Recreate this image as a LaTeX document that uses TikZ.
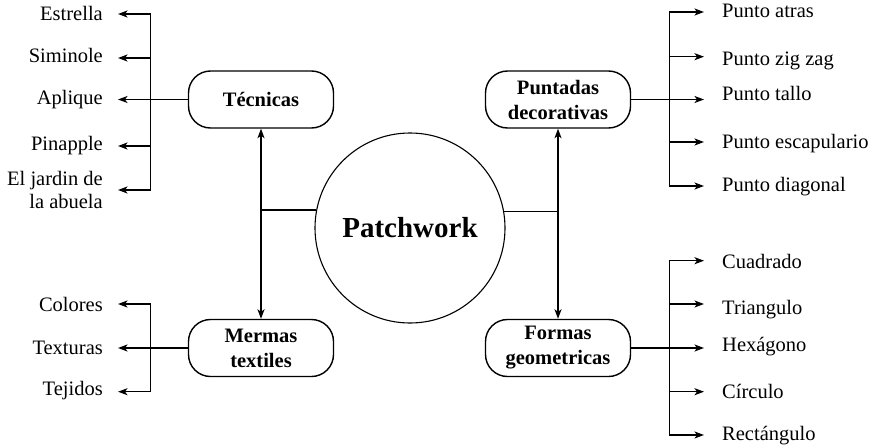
\documentclass[tikz,border=0pt]{standalone}
\usepackage{fontspec}
\setmainfont{Liberation Serif}
\usetikzlibrary{arrows.meta}
\begin{document}
\begin{tikzpicture}[x=1pt,y=-1pt,
  lbl/.style={font=\fontsize{20.5}{23.5}\selectfont, inner ysep=0pt},
  lleaf/.style={lbl, inner xsep=15pt, align=right},
  rleaf/.style={lbl, inner xsep=18pt, align=left},
  box/.style={draw, line width=1.4pt, rounded corners=22pt, minimum width=145pt, minimum height=57pt, inner sep=0pt, align=center, font=\bfseries\fontsize{20.5}{25}\selectfont},
  arr/.style={line width=1.5pt, -{Stealth[length=9.5pt,width=7pt,inset=2.5pt]}},
  ln/.style={line width=1.5pt}]
\useasboundingbox (0,0) rectangle (872,447);

% centre
\node[draw, circle, line width=1.1pt, minimum size=190pt, inner sep=0pt, font=\bfseries\fontsize{29}{30}\selectfont] (c) at (410,228) {Patchwork};

% boxes
\node[box] (tec) at (261,99.5) {Técnicas};
\node[box] (mer) at (261,348) {Mermas\\textiles};
\node[box] (pun) at (558,99.5) {Puntadas\\decorativas};
\node[box] (for) at (558,348) {Formas\\geometricas};

\draw[arr] (c.169.7) -| (tec.south);
\draw[arr] (c.169.7) -| (mer.north);
\draw[arr] (c.10.3) -| (pun.south);
\draw[arr] (c.10.3) -| (for.north);

% left top leaves
\node[lleaf, anchor=base east] (estrella) at (118,20) {Estrella};
\node[lleaf, anchor=base east] (siminole) at (118,62.7) {Siminole};
\node[lleaf, anchor=base east] (aplique) at (118,104) {Aplique};
\node[lleaf, anchor=base east] (pinapple) at (118,150.7) {Pinapple};
\node[lleaf, anchor=east] (jardin) at (118,190) {El jardin de\\la abuela};
\coordinate (lt1) at (150.7,14);
\coordinate (lt2) at (150.7,58);
\coordinate (lt4) at (150.7,146);
\coordinate (lt5) at (150.7,190);
\draw[ln] (lt1) -- (lt5);
\draw[arr] (lt1) -- (lt1 -| estrella.east);
\draw[arr] (lt2) -- (lt2 -| siminole.east);
\draw[arr] (tec.west) -- (tec.west -| aplique.east);
\draw[arr] (lt4) -- (lt4 -| pinapple.east);
\draw[arr] (lt5) -- (lt5 -| jardin.east);

% left bottom leaves
\node[lleaf, anchor=base east] (colores) at (118,311.7) {Colores};
\node[lleaf, anchor=base east] (texturas) at (118,354) {Texturas};
\node[lleaf, anchor=base east] (tejidos) at (118,395) {Tejidos};
\coordinate (lb1) at (150.7,304);
\coordinate (lb3) at (150.7,391.7);
\draw[ln] (lb1) -- (lb3);
\draw[arr] (lb1) -- (lb1 -| colores.east);
\draw[arr] (mer.west) -- (mer.west -| texturas.east);
\draw[arr] (lb3) -- (lb3 -| tejidos.east);

% right top leaves
\node[rleaf, anchor=base west] (atras) at (704,17.3) {Punto atras};
\node[rleaf, anchor=base west] (zigzag) at (704,65) {Punto zig zag};
\node[rleaf, anchor=base west] (tallo) at (704,100) {Punto tallo};
\node[rleaf, anchor=base west] (escap) at (704,148.3) {Punto escapulario};
\node[rleaf, anchor=base west] (diag) at (704,191.7) {Punto diagonal};
\coordinate (rt1) at (669.3,12);
\coordinate (rt2) at (669.3,56.7);
\coordinate (rt4) at (669.3,142);
\coordinate (rt5) at (669.3,186);
\draw[ln] (rt1) -- (rt5);
\draw[arr] (rt1) -- (rt1 -| atras.west);
\draw[arr] (rt2) -- (rt2 -| zigzag.west);
\draw[arr] (pun.east) -- (pun.east -| tallo.west);
\draw[arr] (rt4) -- (rt4 -| escap.west);
\draw[arr] (rt5) -- (rt5 -| diag.west);

% right bottom leaves
\node[rleaf, anchor=base west] (cuad) at (704,268.3) {Cuadrado};
\node[rleaf, anchor=base west] (tri) at (704,314) {Triangulo};
\node[rleaf, anchor=base west] (hex) at (704,351.7) {Hexágono};
\node[rleaf, anchor=base west] (circ) at (704,398.3) {Círculo};
\node[rleaf, anchor=base west] (rect) at (704,440) {Rectángulo};
\coordinate (rb1) at (669.3,260.7);
\coordinate (rb2) at (669.3,304);
\coordinate (rb4) at (669.3,391.7);
\coordinate (rb5) at (669.3,435);
\draw[ln] (rb1) -- (rb5);
\draw[arr] (rb1) -- (rb1 -| cuad.west);
\draw[arr] (rb2) -- (rb2 -| tri.west);
\draw[arr] (for.east) -- (for.east -| hex.west);
\draw[arr] (rb4) -- (rb4 -| circ.west);
\draw[arr] (rb5) -- (rb5 -| rect.west);
\end{tikzpicture}
\end{document}
